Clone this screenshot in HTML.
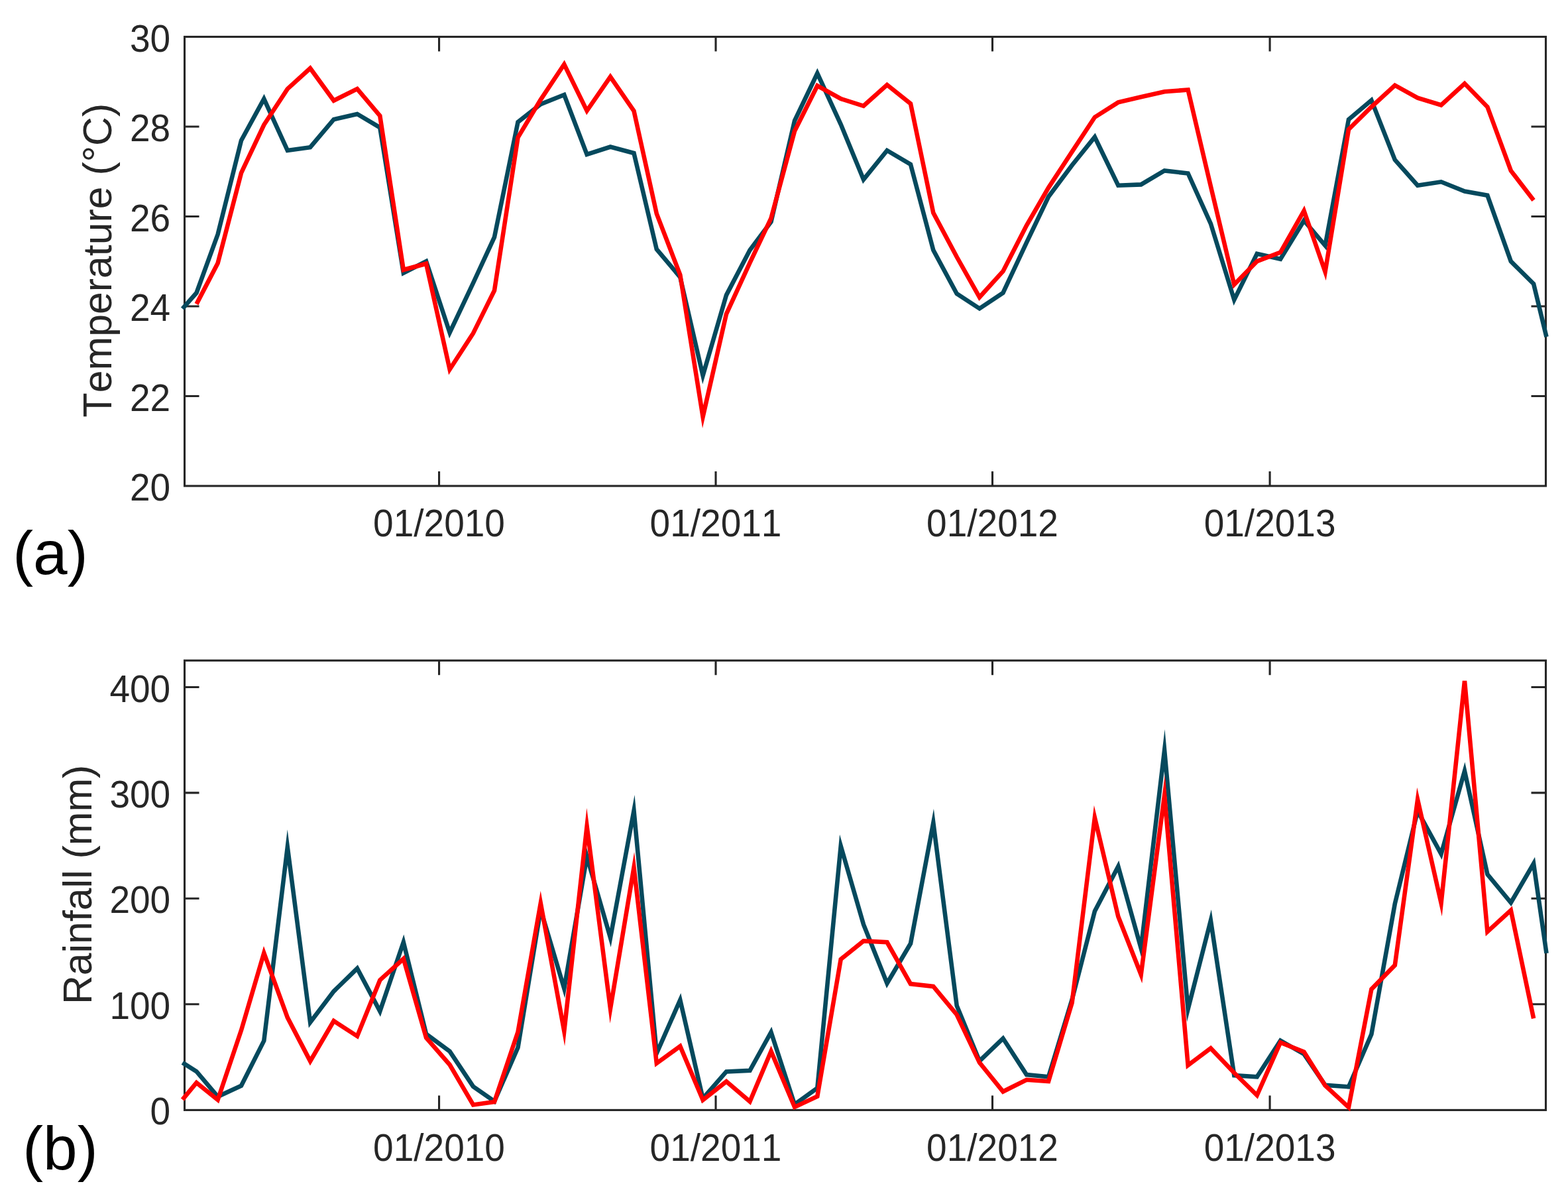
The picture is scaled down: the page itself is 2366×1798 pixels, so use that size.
<!DOCTYPE html>
<html lang="en"><head><meta charset="utf-8"><title>Temperature and rainfall time series</title>
<style>html,body{margin:0;padding:0;background:#fff;}svg{display:block;}text{font-family:"Liberation Sans",sans-serif;font-kerning:none;}.tk{font-size:55px;fill:#262626;}.lb{font-size:60.8px;fill:#262626;}.pn{font-size:92.8px;fill:#000;}.ax{stroke:#262626;stroke-width:3.1;fill:none;}.d{fill:none;stroke-width:6.6;stroke-linejoin:miter;stroke-miterlimit:10;stroke-linecap:butt;}</style></head><body>
<svg width="2366" height="1798" viewBox="0 0 2366 1798">
<rect x="0" y="0" width="2366" height="1798" fill="#ffffff"/>
<g class="ax">
<rect x="278.50" y="55.50" width="2054.00" height="677.50"/>
<path d="M662.55 733.00V711.00M662.55 55.50V77.50M1080.02 733.00V711.00M1080.02 55.50V77.50M1497.49 733.00V711.00M1497.49 55.50V77.50M1916.10 733.00V711.00M1916.10 55.50V77.50M278.50 597.50H300.50M2332.50 597.50H2310.50M278.50 462.00H300.50M2332.50 462.00H2310.50M278.50 326.50H300.50M2332.50 326.50H2310.50M278.50 191.00H300.50M2332.50 191.00H2310.50"/>
</g>
<g class="tk" text-anchor="end">
<text transform="translate(257.2 755.1) scale(1 1.03)">20</text>
<text transform="translate(257.2 619.6) scale(1 1.03)">22</text>
<text transform="translate(257.2 484.1) scale(1 1.03)">24</text>
<text transform="translate(257.2 348.6) scale(1 1.03)">26</text>
<text transform="translate(257.2 213.1) scale(1 1.03)">28</text>
<text transform="translate(257.2 77.6) scale(1 1.03)">30</text>
</g>
<g class="tk" text-anchor="middle">
<text transform="translate(662.5 808.9) scale(1 1.03)">01/2010</text>
<text transform="translate(1080.0 808.9) scale(1 1.03)">01/2011</text>
<text transform="translate(1497.5 808.9) scale(1 1.03)">01/2012</text>
<text transform="translate(1916.1 808.9) scale(1 1.03)">01/2013</text>
</g>
<text class="lb" text-anchor="middle" transform="translate(168.0 392.6) rotate(-90)">Temperature (°C)</text>
<g class="ax">
<rect x="278.50" y="996.30" width="2054.00" height="678.10"/>
<path d="M662.55 1674.40V1652.40M662.55 996.30V1018.30M1080.02 1674.40V1652.40M1080.02 996.30V1018.30M1497.49 1674.40V1652.40M1497.49 996.30V1018.30M1916.10 1674.40V1652.40M1916.10 996.30V1018.30M278.50 1514.70H300.50M2332.50 1514.70H2310.50M278.50 1355.30H300.50M2332.50 1355.30H2310.50M278.50 1195.90H300.50M2332.50 1195.90H2310.50M278.50 1036.50H300.50M2332.50 1036.50H2310.50"/>
</g>
<g class="tk" text-anchor="end">
<text transform="translate(257.2 1696.2) scale(1 1.03)">0</text>
<text transform="translate(257.2 1536.8) scale(1 1.03)">100</text>
<text transform="translate(257.2 1377.4) scale(1 1.03)">200</text>
<text transform="translate(257.2 1218.0) scale(1 1.03)">300</text>
<text transform="translate(257.2 1058.6) scale(1 1.03)">400</text>
</g>
<g class="tk" text-anchor="middle">
<text transform="translate(662.5 1750.8) scale(1 1.03)">01/2010</text>
<text transform="translate(1080.0 1750.8) scale(1 1.03)">01/2011</text>
<text transform="translate(1497.5 1750.8) scale(1 1.03)">01/2012</text>
<text transform="translate(1916.1 1750.8) scale(1 1.03)">01/2013</text>
</g>
<text class="lb" text-anchor="middle" transform="translate(137.5 1334.4) rotate(-90)">Rainfall (mm)</text>
<g class="d">
<polyline stroke="#05495d" points="275.4,465.6 296.5,441.7 328.6,353.6 364.0,212.0 398.3,149.2 433.8,226.9 468.1,222.2 503.6,180.2 539.0,172.0 573.3,192.4 608.8,411.7 643.1,394.3 678.6,501.7 714.0,426.8 746.0,357.7 781.5,184.2 815.8,157.1 851.3,143.0 885.6,232.9 921.0,221.5 956.5,231.0 990.8,376.0 1026.3,418.0 1060.6,566.5 1096.0,445.1 1131.5,377.3 1163.5,334.6 1199.0,182.2 1233.3,110.6 1268.7,187.6 1303.0,270.8 1338.5,227.0 1374.0,247.9 1408.3,377.3 1443.7,443.0 1478.0,465.4 1513.5,441.7 1549.0,365.8 1582.1,296.7 1617.6,249.3 1651.9,206.7 1687.3,279.7 1721.7,278.4 1757.1,257.4 1792.6,261.5 1826.9,337.3 1862.3,452.2 1896.7,382.8 1932.1,390.8 1967.6,332.7 1999.6,370.3 2035.0,180.2 2069.4,151.2 2104.8,241.1 2139.1,279.7 2174.6,274.3 2210.0,288.6 2244.4,294.7 2279.8,394.2 2314.1,428.1 2333.5,508.1"/>
<polyline stroke="#ff0000" points="296.5,458.6 328.6,397.0 364.0,260.8 398.3,188.3 433.8,134.1 468.1,103.0 503.6,151.7 539.0,134.1 573.3,174.7 608.8,407.0 643.1,397.7 678.6,557.2 714.0,502.7 746.0,438.3 781.5,207.3 815.8,150.3 851.3,97.0 885.6,167.1 921.0,115.9 956.5,167.3 990.8,322.4 1026.3,414.6 1060.6,628.6 1096.0,473.5 1131.5,396.3 1163.5,329.2 1199.0,197.8 1233.3,129.4 1268.7,149.0 1303.0,159.8 1338.5,128.0 1374.0,156.4 1408.3,321.1 1443.7,387.5 1478.0,448.3 1513.5,409.2 1549.0,340.0 1582.1,283.1 1617.6,228.9 1651.9,176.8 1687.3,154.4 1721.7,146.3 1757.1,138.2 1792.6,135.5 1826.9,281.1 1862.3,429.3 1896.7,394.2 1932.1,380.7 1967.6,317.9 1999.6,410.0 2035.0,195.1 2069.4,161.2 2104.8,128.7 2139.1,147.6 2174.6,158.5 2210.0,126.0 2244.4,161.2 2279.8,257.4 2314.1,302.1"/>
<polyline stroke="#05495d" points="275.4,1602.9 296.5,1616.2 328.6,1654.1 364.0,1637.8 398.3,1569.9 433.8,1277.8 468.1,1542.1 503.6,1495.3 539.0,1460.8 573.3,1525.4 608.8,1421.1 643.1,1559.7 678.6,1585.8 714.0,1638.9 746.0,1661.2 781.5,1580.1 815.8,1371.9 851.3,1491.0 885.6,1292.2 921.0,1414.5 956.5,1222.8 990.8,1588.8 1026.3,1508.4 1060.6,1657.0 1096.0,1616.4 1131.5,1614.8 1163.5,1556.9 1199.0,1666.0 1233.3,1641.3 1268.7,1276.2 1303.0,1394.4 1338.5,1483.2 1374.0,1423.2 1408.3,1241.2 1443.7,1516.9 1478.0,1600.5 1513.5,1566.3 1549.0,1621.0 1582.1,1624.3 1617.6,1507.8 1651.9,1374.4 1687.3,1307.0 1721.7,1430.3 1757.1,1131.6 1792.6,1522.1 1826.9,1388.5 1862.3,1622.1 1896.7,1624.3 1932.1,1569.6 1967.6,1589.9 1999.6,1636.8 2035.0,1639.3 2069.4,1560.0 2104.8,1363.3 2139.1,1223.3 2174.6,1288.1 2210.0,1163.1 2244.4,1318.8 2279.8,1361.5 2314.1,1302.7 2333.5,1437.9"/>
<polyline stroke="#ff0000" points="275.4,1658.7 296.5,1633.2 328.6,1659.0 364.0,1554.1 398.3,1437.6 433.8,1534.8 468.1,1600.6 503.6,1540.0 539.0,1562.9 573.3,1478.4 608.8,1446.2 643.1,1565.4 678.6,1606.0 714.0,1666.4 746.0,1662.1 781.5,1556.5 815.8,1362.3 851.3,1555.3 885.6,1246.5 921.0,1521.3 956.5,1308.6 990.8,1603.8 1026.3,1578.1 1060.6,1659.3 1096.0,1631.3 1131.5,1661.5 1163.5,1585.8 1199.0,1669.9 1233.3,1653.7 1268.7,1447.0 1303.0,1419.4 1338.5,1421.3 1374.0,1484.1 1408.3,1487.9 1443.7,1530.5 1478.0,1602.8 1513.5,1646.5 1549.0,1628.8 1582.1,1631.0 1617.6,1512.5 1651.9,1233.4 1687.3,1382.4 1721.7,1470.0 1757.1,1199.7 1792.6,1606.8 1826.9,1581.2 1862.3,1618.3 1896.7,1652.0 1932.1,1572.5 1967.6,1586.6 1999.6,1637.4 2035.0,1670.1 2069.4,1492.1 2104.8,1455.9 2139.1,1206.1 2174.6,1362.2 2210.0,1027.1 2244.4,1405.4 2279.8,1373.0 2314.1,1536.2"/>
</g>
<text class="pn" x="19.2" y="865.6">(a)</text>
<text class="pn" x="34.2" y="1763.6">(b)</text>
</svg></body></html>
